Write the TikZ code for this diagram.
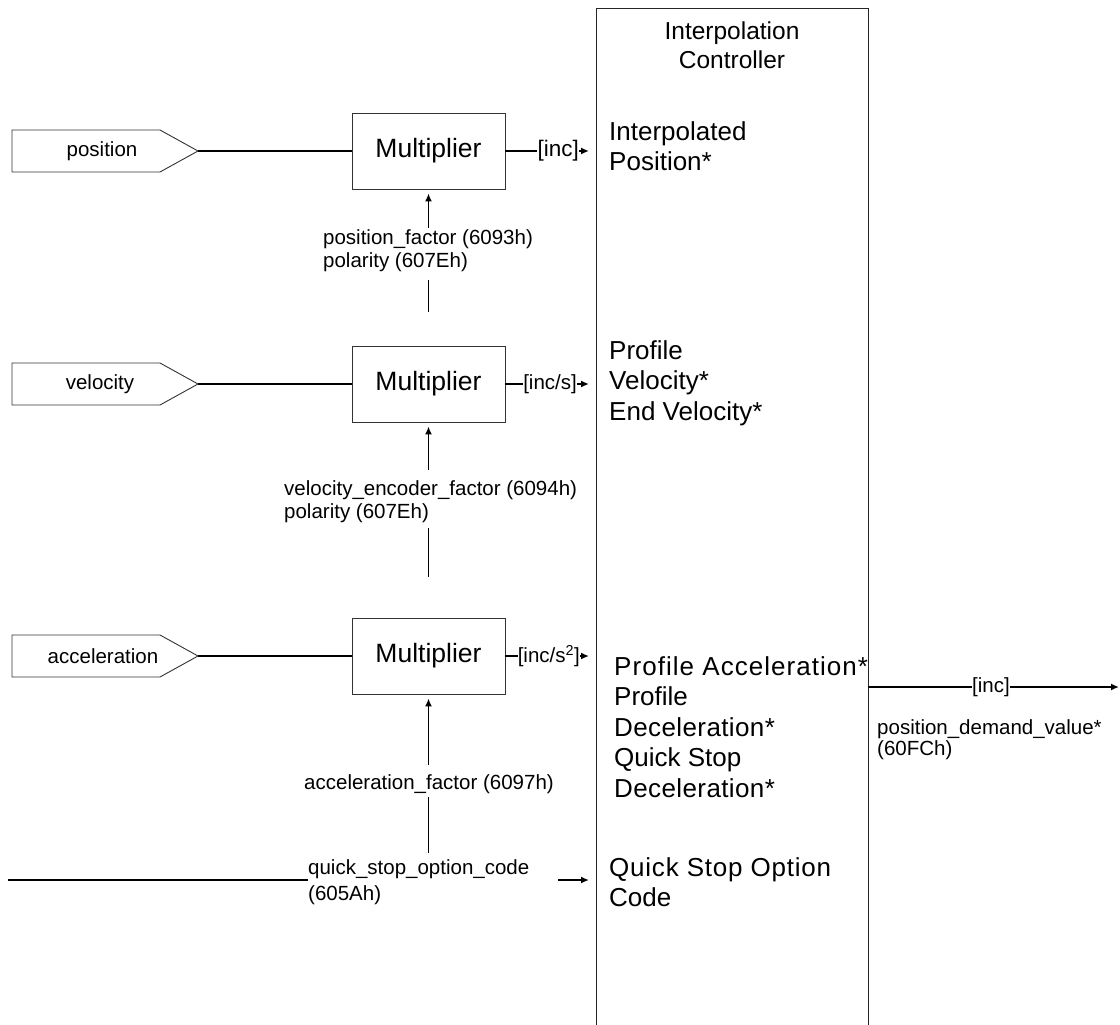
\documentclass[tikz,border=0pt]{standalone}
\usepackage{fontspec}
\setmainfont{Liberation Sans}
\usetikzlibrary{arrows.meta}
\begin{document}
\begin{tikzpicture}[x=1pt,y=-1pt,
  mult/.style={draw=black!80, line width=0.9pt, minimum width=153pt, minimum height=76pt, inner sep=0pt, font=\fontsize{26.5}{30}\selectfont},
  sigshape/.style={draw=black!80, line width=0.9pt},
  sigtext/.style={inner sep=0pt, font=\fontsize{20.5}{24}\selectfont},
  wire/.style={line width=1.6pt},
  arr/.style={wire, -{Latex[length=8pt,width=7pt]}},
  small/.style={inner sep=0pt, font=\fontsize{20.5}{23}\selectfont},
  big/.style={inner sep=0pt, align=left, anchor=north west, font=\fontsize{26}{30.5}\selectfont},
  ctrl/.style={line width=0.9pt, draw=black!85}
]
\useasboundingbox (0,0) rectangle (1120,1025);

% Interpolation controller
\draw[ctrl] (596,1025) -- (596,8) -- (868,8) -- (868,1025);
\node[inner sep=0pt, align=center, anchor=north, font=\fontsize{24.5}{28.5}\selectfont] (title) at (732,22) {Interpolation\\Controller};

% Row 1: position
\draw[sigshape] (12,130) -- (160,130) -- (198,151) -- (160,172) -- (12,172) -- cycle;
\node[sigtext] (p1) at (102,151) {position};
\coordinate (p1tip) at (198,151);
\node[mult] (m1) at (428.5,151) {Multiplier};
\draw[wire] (p1tip) -- (m1.west);
\node[small, anchor=east, font=\fontsize{22.5}{26}\selectfont] (u1) at (579,151) {[inc]};
\draw[wire] (m1.east) -- (u1.west);
\coordinate (t1) at (589,151);
\draw[arr] (u1.east) -- (t1);
\node[small, align=left, anchor=north west] (f1) at (323,229) {position\_factor (6093h)\\polarity (607Eh)};
\coordinate (a1) at (428.5,228);
\coordinate (b1t) at (428.5,280);
\coordinate (b1) at (428.5,312);
\draw[arr, shorten >=4pt] (a1) -- (m1.south);
\draw[wire] (b1) -- (b1t);
\node[big] (r1) at (609,121) {Interpolated\\Position*};

% Row 2: velocity
\draw[sigshape] (12,363) -- (160,363) -- (198,384) -- (160,405) -- (12,405) -- cycle;
\node[sigtext] (p2) at (100,384) {velocity};
\coordinate (p2tip) at (198,384);
\node[mult] (m2) at (428.5,384) {Multiplier};
\draw[wire] (p2tip) -- (m2.west);
\node[small, anchor=east] (u2) at (577,384) {[inc/s]};
\draw[wire] (m2.east) -- (u2.west);
\coordinate (t2) at (589,384);
\draw[arr] (u2.east) -- (t2);
\node[small, align=left, anchor=north west] (f2) at (284,480) {velocity\_encoder\_factor (6094h)\\polarity (607Eh)};
\coordinate (a2) at (428.5,470);
\coordinate (b2t) at (428.5,528);
\coordinate (b2) at (428.5,577);
\draw[arr, shorten >=4pt] (a2) -- (m2.south);
\draw[wire] (b2) -- (b2t);
\node[big] (r2) at (609,340) {Profile\\Velocity*\\End Velocity*};

% Row 3: acceleration
\draw[sigshape] (12,635) -- (160,635) -- (198,656) -- (160,677) -- (12,677) -- cycle;
\node[sigtext] (p3) at (103,656) {acceleration};
\coordinate (p3tip) at (198,656);
\node[mult] (m3) at (428.5,656) {Multiplier};
\draw[wire] (p3tip) -- (m3.west);
\node[small, anchor=east] (u3) at (580,656) {[inc/s\textsuperscript{2}]};
\draw[wire] (m3.east) -- (u3.west);
\coordinate (t3) at (589,656);
\draw[arr] (u3.east) -- (t3);
\node[small, anchor=base] (f3) at (429,789) {acceleration\_factor (6097h)};
\coordinate (a3) at (428.5,765);
\coordinate (b3t) at (428.5,797);
\coordinate (b3) at (428.5,853);
\draw[arr, shorten >=4pt] (a3) -- (m3.south);
\draw[wire] (b3) -- (b3t);
\node[big] (r3) at (614,656) {{\addfontfeature{LetterSpace=4}Profile Acceleration*}\\Profile\\{\addfontfeature{LetterSpace=1.5}Deceleration*}\\Quick Stop\\{\addfontfeature{LetterSpace=1.5}Deceleration*}};

% Row 4: quick stop option code
\coordinate (q0) at (8,880);
\node[small, align=left, anchor=north west, font=\fontsize{20.5}{26.5}\selectfont] (f4) at (308,859) {quick\_stop\_option\_code\\(605Ah)};
\draw[wire] (q0) -- (q0 -| f4.west);
\coordinate (q1) at (558,880);
\coordinate (t4) at (589,880);
\draw[arr] (q1) -- (t4);
\node[big] (r4) at (609,857) {{\addfontfeature{LetterSpace=3}Quick Stop Option}\\Code};

% Output
\node[small] (u5) at (991,687) {[inc]};
\coordinate (o0) at (868,687);
\coordinate (o1) at (1119,687);
\draw[wire] (o0) -- (u5.west);
\draw[arr] (u5.east) -- (o1);
\node[small, align=left, anchor=north west, font=\fontsize{20.5}{21.5}\selectfont] (f5) at (877,719) {position\_demand\_value*\\(60FCh)};
\end{tikzpicture}
\end{document}
